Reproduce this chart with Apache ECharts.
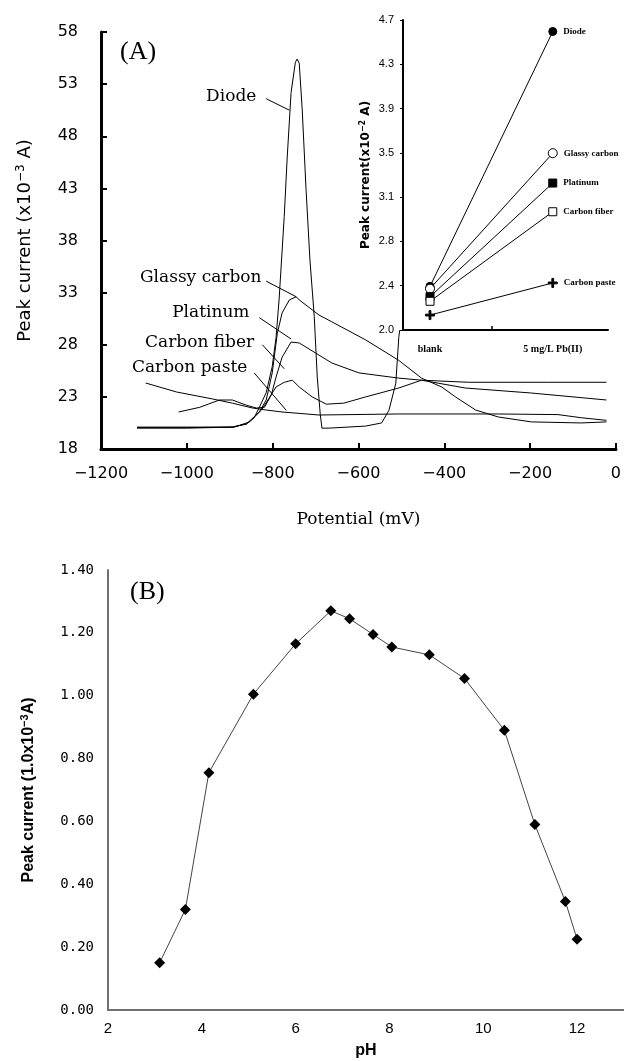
<!DOCTYPE html>
<html><head><meta charset="utf-8">
<script src="https://cdn.jsdelivr.net/npm/echarts@6/dist/echarts.min.js"></script>
<style>html,body{margin:0;padding:0;background:#fff}#c{width:624px;height:1061px}</style>
</head><body><div id="c"></div>
<script>
// ---------- Chart (A): current vs potential curves  [potential mV, current x10^-3 A]
const diodeCurve = [[-1116,20.1],[-1000,20.1],[-894,20.1],[-861,20.4],[-843,21.0],[-831,22.0],[-815,23.4],[-801,25.9],[-792,28.7],[-785,32.3],[-773,40.3],[-766,46.0],[-757,52.2],[-747,55.1],[-743,55.4],[-738,55.0],[-731,50.5],[-722,42.8],[-713,36.1],[-703,30.7],[-696,24.9],[-689,21.3],[-685,20.0],[-669,20.0],[-583,20.2],[-546,20.5],[-529,21.7],[-513,24.3],[-506,28.7],[-504,29.4]];
const glassyCurve = [[-1116,20.05],[-1000,20.05],[-894,20.1],[-861,20.4],[-831,21.55],[-815,22.7],[-801,25.3],[-789,29.1],[-778,31.05],[-761,32.3],[-745,32.6],[-738,32.3],[-692,30.85],[-662,30.2],[-583,28.46],[-506,26.5],[-453,24.8],[-406,23.95],[-374,23.0],[-327,21.74],[-274,21.07],[-197,20.6],[-81,20.5],[-22,20.6]];
const platinumCurve = [[-1019,21.55],[-970,22.0],[-924,22.7],[-894,22.7],[-861,22.2],[-838,21.93],[-819,22.0],[-803,23.2],[-792,24.9],[-778,26.8],[-757,28.26],[-738,28.17],[-662,26.25],[-599,25.3],[-506,24.8],[-453,24.6],[-351,23.85],[-197,23.37],[-22,22.7]];
const fiberCurve = [[-1116,20.0],[-1000,20.0],[-889,20.1],[-854,20.6],[-826,21.74],[-808,22.9],[-792,23.95],[-773,24.4],[-754,24.6],[-738,23.95],[-708,23.0],[-675,22.3],[-634,22.4],[-583,23.0],[-506,23.85],[-453,24.6],[-344,24.4],[-158,24.4],[-22,24.4]];
const pasteCurve = [[-1096,24.33],[-1024,23.47],[-940,22.8],[-894,22.4],[-847,21.93],[-815,21.74],[-778,21.55],[-692,21.26],[-506,21.36],[-274,21.36],[-135,21.3],[-81,21.0],[-22,20.75]];
const curveNames = ['Diode','Glassy carbon','Platinum','Carbon fiber','Carbon paste'];
const aYTicks = [18,23,28,33,38,43,48,53,58];
// annotation anchors (data units): text right edge, leader start, leader end
const annoText = [[-838,51.8],[-826,34.4],[-854,31.05],[-843,28.2],[-859,25.8]];
const annoFrom = [[-815,51.6],[-815,34.1],[-831,30.6],[-824,28.0],[-843,25.3]];
const annoTo   = [[-761,50.5],[-745,32.6],[-757,28.55],[-773,25.7],[-768,21.7]];

// ---------- Inset: peak current (x10^-2 A), blank vs 5 mg/L Pb(II)
const insetCategories = ['blank','5 mg/L Pb(II)'];
const insetDiode = [2.38, 4.60];
const insetGlassy = [2.36, 3.54];
const insetPlatinum = [2.29, 3.28];
const insetFiber = [2.25, 3.03];
const insetPaste = [2.13, 2.41];
const insetTickLabels = ['2.0','2.4','2.8','3.1','3.5','3.9','4.3','4.7'];

// ---------- Chart (B): peak current vs pH
const pH = [3.1,3.65,4.15,5.1,6.0,6.75,7.15,7.65,8.05,8.85,9.6,10.45,11.1,11.75,12.0];
const peakCurrent = [0.15,0.32,0.755,1.005,1.165,1.27,1.245,1.195,1.155,1.13,1.055,0.89,0.59,0.345,0.225];
const bXTicks = [2,4,6,8,10,12];

const insetMin = 2.0, insetMax = 4.7;
const insetTickVals = insetTickLabels.map((_, i) => insetMin + i * (insetMax - insetMin) / (insetTickLabels.length - 1));

const chart = echarts.init(document.getElementById('c'), null, {renderer:'canvas'});
const black = '#000';
const curveSeries = [diodeCurve, glassyCurve, platinumCurve, fiberCurve, pasteCurve].map((d, i) => ({
  type:'line', name:curveNames[i], xAxisIndex:0, yAxisIndex:0, data:d, showSymbol:false,
  lineStyle:{color:black, width:1}, silent:true, z:2
}));
const insetSymbols = ['circle','circle','rect','rect','path://M4,0H6V4H10V6H6V10H4V6H0V4H4Z'];
const insetFill = ['#000','#fff','#000','#fff','#000'];
const insetSizes = [8,9,8,8,9];
const insetSeries = [insetDiode, insetGlassy, insetPlatinum, insetFiber, insetPaste].map((d, i) => ({
  type:'line', name:curveNames[i], xAxisIndex:1, yAxisIndex:1,
  data:d.map((v, k) => ({value:[k, v], label: k === 1 ? {show:true, position:'right', distance:6, formatter:curveNames[i],
     fontFamily:'Liberation Serif', fontWeight:'bold', fontSize:9, color:black} : {show:false}})),
  symbol:insetSymbols[i], symbolSize:insetSizes[i], showSymbol:true,
  itemStyle:{color:insetFill[i], borderColor:black, borderWidth:1},
  lineStyle:{color:black, width:1}, z:5
}));

const option = {
  animation:false,
  backgroundColor:'#fff',
  grid:[
    {left:101, top:32, width:517, height:417},
    {left:403, top:20, width:205, height:310},
    {left:108, top:570, width:516, height:440}
  ],
  xAxis:[
    {type:'value', gridIndex:0, min:-1200, max:0, interval:200,
     axisLine:{onZero:false, lineStyle:{color:black, width:3}},
     axisTick:{inside:true, length:6, lineStyle:{color:black, width:2}},
     splitLine:{show:false},
     axisLabel:{margin:17, color:black, fontFamily:'DejaVu Sans', fontSize:16,
       formatter:v => v < 0 ? '\u2212' + Math.abs(v) : String(v)},
     name:'Potential (mV)', nameLocation:'middle', nameGap:62,
     nameTextStyle:{color:black, fontFamily:'DejaVu Serif', fontSize:17}},
    {type:'value', gridIndex:1, min:-0.22, max:1.45,
     axisLine:{onZero:false, lineStyle:{color:black, width:2}},
     axisTick:{inside:true, length:4, customValues:[0.5], lineStyle:{color:black, width:1.5}},
     splitLine:{show:false},
     axisLabel:{customValues:[0,1], margin:14, color:black, fontFamily:'Liberation Serif', fontWeight:'bold', fontSize:10,
       formatter:v => insetCategories[Math.round(v)] || ''}},
    {type:'value', gridIndex:2, min:2, max:13,
     axisLine:{onZero:false, lineStyle:{color:'#707070', width:2}},
     axisTick:{show:false},
     splitLine:{show:false},
     axisLabel:{customValues:bXTicks, margin:11, color:black, fontFamily:'Liberation Sans', fontSize:15},
     name:'pH', nameLocation:'middle', nameGap:33,
     nameTextStyle:{color:black, fontFamily:'Liberation Sans', fontWeight:'bold', fontSize:16}}
  ],
  yAxis:[
    {type:'value', gridIndex:0, min:18, max:58,
     axisLine:{show:true, onZero:false, lineStyle:{color:black, width:3}},
     axisTick:{show:true, inside:true, length:6, customValues:aYTicks, lineStyle:{color:black, width:2}},
     splitLine:{show:false},
     axisLabel:{customValues:aYTicks, margin:23, color:black, fontFamily:'DejaVu Sans', fontSize:16},
     name:'Peak current (x10{s|\u22123} A)', nameLocation:'middle', nameGap:66,
     nameTextStyle:{color:black, fontFamily:'DejaVu Sans', fontSize:18,
       rich:{s:{fontSize:12, fontFamily:'DejaVu Sans', color:black, verticalAlign:'top', padding:[0,0,8,0]}}}},
    {type:'value', gridIndex:1, min:insetMin, max:insetMax,
     axisLine:{show:true, onZero:false, lineStyle:{color:black, width:2}},
     axisTick:{show:true, length:3, customValues:insetTickVals, lineStyle:{color:black, width:1}},
     splitLine:{show:false},
     axisLabel:{customValues:insetTickVals, margin:9, color:black, fontFamily:'Liberation Sans Narrow, Liberation Sans', fontSize:11,
       formatter:v => { let best = 0; insetTickVals.forEach((t, i) => { if (Math.abs(t - v) < Math.abs(insetTickVals[best] - v)) best = i; }); return insetTickLabels[best]; }},
     name:'Peak current(x10{s|\u22122} A)', nameLocation:'middle', nameGap:30,
     nameTextStyle:{color:black, fontFamily:'DejaVu Sans', fontWeight:'bold', fontSize:12,
       rich:{s:{fontSize:8, fontFamily:'DejaVu Sans', fontWeight:'bold', color:black, verticalAlign:'top', padding:[0,0,6,0]}}}},
    {type:'value', gridIndex:2, min:0, max:1.4, interval:0.2,
     axisLine:{show:true, onZero:false, lineStyle:{color:'#707070', width:2}},
     axisTick:{show:false},
     splitLine:{show:false},
     axisLabel:{margin:14, color:black, fontFamily:'DejaVu Sans Mono', fontSize:14, formatter:v => v.toFixed(2)},
     name:'Peak current (1.0x10{s|\u22123}A)', nameLocation:'middle', nameGap:70,
     nameTextStyle:{color:black, fontFamily:'Liberation Sans', fontWeight:'bold', fontSize:16,
       rich:{s:{fontSize:11, fontFamily:'Liberation Sans', fontWeight:'bold', color:black, verticalAlign:'top', padding:[0,0,8,0]}}}}
  ],
  series:[
    ...curveSeries,
    ...insetSeries,
    {type:'line', name:'pH response', xAxisIndex:2, yAxisIndex:2,
     data:pH.map((x, i) => [x, peakCurrent[i]]),
     symbol:'diamond', symbolSize:11, showSymbol:true,
     itemStyle:{color:black}, lineStyle:{color:'#444', width:1}}
  ]
};
chart.setOption(option);

const px = p => chart.convertToPixel({xAxisIndex:0, yAxisIndex:0}, p);
const graphics = [];
curveNames.forEach((n, i) => {
  const t = px(annoText[i]), a = px(annoFrom[i]), b = px(annoTo[i]);
  graphics.push({type:'text', x:t[0], y:t[1], style:{text:n, align:'right', verticalAlign:'middle',
    font:'17px "DejaVu Serif"', fill:black}, z:10});
  graphics.push({type:'line', shape:{x1:a[0], y1:a[1], x2:b[0], y2:b[1]}, style:{stroke:black, lineWidth:1}, z:10});
});
graphics.push({type:'text', x:120, y:52, style:{text:'(A)', verticalAlign:'middle', font:'26px "Liberation Serif"', fill:black}});
graphics.push({type:'text', x:130, y:592, style:{text:'(B)', verticalAlign:'middle', font:'26px "Liberation Serif"', fill:black}});
chart.setOption({graphic:graphics});
</script></body></html>
